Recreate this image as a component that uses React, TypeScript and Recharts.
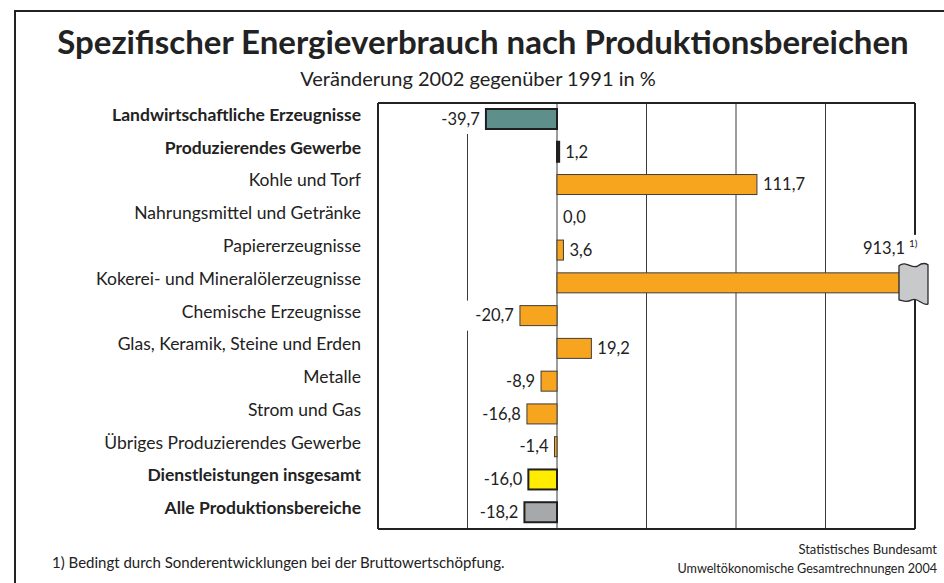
import { Bar, BarChart, CartesianGrid, LabelList, XAxis, YAxis } from "recharts";

const CATEGORIES = [
  "Landwirtschaftliche Erzeugnisse",
  "Produzierendes Gewerbe",
  "Kohle und Torf",
  "Nahrungsmittel und Getränke",
  "Papiererzeugnisse",
  "Kokerei- und Mineralölerzeugnisse",
  "Chemische Erzeugnisse",
  "Glas, Keramik, Steine und Erden",
  "Metalle",
  "Strom und Gas",
  "Übriges Produzierendes Gewerbe",
  "Dienstleistungen insgesamt",
  "Alle Produktionsbereiche",
];

// Veränderung 2002 gegenüber 1991 in %
const CHANGE = [-39.7, 1.2, 111.7, 0.0, 3.6, 913.1, -20.7, 19.2, -8.9, -16.8, -1.4, -16.0, -18.2];

const GROUP = [
  "agri",
  "industry",
  "branch",
  "branch",
  "branch",
  "branch",
  "branch",
  "branch",
  "branch",
  "branch",
  "branch",
  "services",
  "total",
];

const NOTE_MARKS = ["", "", "", "", "", "1)", "", "", "", "", "", "", ""];

const X_TICKS = [-100, -50, 0, 50, 100, 150, 200];
const X_MIN = X_TICKS[0];
const X_MAX = X_TICKS[X_TICKS.length - 1];

const TITLE = "Spezifischer Energieverbrauch nach Produktionsbereichen";
const SUBTITLE = "Veränderung 2002 gegenüber 1991 in %";
const FOOTNOTE = "1) Bedingt durch Sonderentwicklungen bei der Bruttowertschöpfung.";
const SOURCE = ["Statistisches Bundesamt", "Umweltökonomische Gesamtrechnungen 2004"];

type Group = "agri" | "industry" | "branch" | "services" | "total";

const GROUP_STYLE: Record<Group, { fill: string; stroke: string; strokeWidth: number; bold: boolean }> = {
  agri: { fill: "#5f8f8a", stroke: "#1f1f1f", strokeWidth: 2, bold: true },
  industry: { fill: "#1f1f1f", stroke: "#1f1f1f", strokeWidth: 2, bold: true },
  branch: { fill: "#f7a51e", stroke: "#3d3d3d", strokeWidth: 1, bold: false },
  services: { fill: "#ffec00", stroke: "#1f1f1f", strokeWidth: 2, bold: true },
  total: { fill: "#a7a8aa", stroke: "#1f1f1f", strokeWidth: 2, bold: true },
};

const rows = CATEGORIES.map((name, i) => ({
  name,
  value: CHANGE[i],
  group: GROUP[i] as Group,
  note: NOTE_MARKS[i],
}));

const FONT = "Lato, 'Noto Sans', sans-serif";
const BREAK_GAP = 15; // space left between a cut bar and the frame

const fmt = (v: number) => v.toFixed(1).replace(".", ",");

/** Bar rectangle; a bar running past the axis maximum is cut short before the frame. */
function BarShape(props: any) {
  const { x, y, width, height, payload } = props;
  if (payload == null) return null;
  const st = GROUP_STYLE[payload.group as Group];
  let left = Math.min(x, x + width);
  let right = Math.max(x, x + width);
  if (payload.value > X_MAX && width !== 0) {
    right = x + X_MAX * (width / payload.value) - BREAK_GAP;
  }
  if (right - left < 0.05) return null;
  return (
    <rect
      x={left}
      y={y}
      width={right - left}
      height={height}
      fill={st.fill}
      stroke={st.stroke}
      strokeWidth={st.strokeWidth}
    />
  );
}

/** Value label with a white knock-out; the cut bar gets its break flag here (outside the bar clip). */
function ValueLabel(props: any) {
  const vb = props.viewBox ?? props;
  const { x, y, width, height } = vb;
  const index: number = props.index;
  const v = CHANGE[index];
  const text = fmt(v);
  const left = Math.min(x, x + width);
  const right = Math.max(x, x + width);
  const cy = y + height / 2;

  if (v > X_MAX) {
    const end = x + X_MAX * (width / v) - BREAK_GAP;
    const x0 = end - 1;
    const x1 = end + 28;
    const t = y - 9;
    const b = y + height + 8;
    const flag =
      `M${x0},${t + 2} C${x0 + 7},${t - 4} ${x0 + 13},${t + 6} ${x0 + 19},${t + 2} ` +
      `C${x0 + 23},${t - 1} ${x1 - 3},${t - 1} ${x1},${t + 1} ` +
      `L${x1},${b + 3} C${x1 - 5},${b + 6} ${x1 - 10},${b - 4} ${x1 - 16},${b - 1} ` +
      `C${x0 + 7},${b + 2} ${x0 + 3},${b} ${x0},${b - 1} Z`;
    return (
      <g>
        <rect x={end - 50} y={y - 38} width={70} height={36} fill="#fff" />
        <text x={end + 5} y={y - 19} textAnchor="end" fontSize={16.5} fill="#222" fontFamily={FONT}>
          {text}
        </text>
        <text x={end + 9} y={y - 26} fontSize={10} fill="#222" fontFamily={FONT}>
          {NOTE_MARKS[index]}
        </text>
        <path d={flag} fill="#c8c9cb" stroke="#2a2a2a" strokeWidth={1.3} />
      </g>
    );
  }

  const neg = v < 0;
  const tx = neg ? left - 6 : right + 6;
  const w = text.length * 8.6 + 4;
  return (
    <g>
      <rect x={neg ? tx - w : tx - 2} y={y - 5} width={w + 2} height={height + 10} fill="#fff" />
      <text x={tx} y={cy + 5.8} textAnchor={neg ? "end" : "start"} fontSize={16.5} fill="#222" fontFamily={FONT}>
        {text}
      </text>
    </g>
  );
}

function CategoryTick(props: any) {
  const { x, y, payload } = props;
  const i = CATEGORIES.indexOf(payload.value);
  const bold = i >= 0 && GROUP_STYLE[GROUP[i] as Group].bold;
  return (
    <text
      x={x}
      y={y + 1.5}
      textAnchor="end"
      fontSize={17.5}
      fontWeight={bold ? 700 : 400}
      fill="#222"
      fontFamily={FONT}
    >
      {payload.value}
    </text>
  );
}

export default function App() {
  return (
    <div
      style={{
        position: "absolute",
        left: 0,
        top: 0,
        width: 944,
        height: 583,
        overflow: "hidden",
        background: "#fff",
        fontFamily: FONT,
      }}
    >
      <div
        style={{
          position: "absolute",
          left: 14,
          top: 10,
          width: 960,
          height: 600,
          border: "2.5px solid #222",
          boxSizing: "border-box",
        }}
      />

      <div style={{ position: "absolute", left: 0, top: 0 }}>
        <BarChart
          width={944}
          height={583}
          data={rows}
          layout="vertical"
          barSize={20}
          margin={{ top: 103, right: 29, bottom: 54, left: 0 }}
        >
          <CartesianGrid horizontal={false} stroke="#3a3a3a" strokeWidth={1} />
          <CartesianGrid
            verticalCoordinatesGenerator={({ offset }: any) => [offset.left, offset.left + offset.width]}
            horizontalCoordinatesGenerator={({ offset }: any) => [offset.top, offset.top + offset.height]}
            stroke="#222"
            strokeWidth={2}
          />
          <XAxis type="number" domain={[X_MIN, X_MAX]} ticks={X_TICKS} allowDataOverflow hide />
          <YAxis
            type="category"
            dataKey="name"
            width={378}
            axisLine={false}
            tickLine={false}
            tickSize={0}
            tickMargin={17}
            interval={0}
            tick={<CategoryTick />}
          />
          <Bar dataKey="value" shape={<BarShape />} isAnimationActive={false}>
            <LabelList dataKey="value" content={<ValueLabel />} />
          </Bar>
        </BarChart>
      </div>

      <svg
        width={944}
        height={583}
        style={{ position: "absolute", left: 0, top: 0, pointerEvents: "none" }}
        fontFamily={FONT}
      >
        <text x={483} y={54} textAnchor="middle" fontSize={33} fontWeight={700} fill="#222">
          {TITLE}
        </text>
        <text x={478} y={86} textAnchor="middle" fontSize={20} fill="#222">
          {SUBTITLE}
        </text>
        <text x={52} y={568} fontSize={15} fill="#222">
          {FOOTNOTE}
        </text>
        <text x={937} y={554} textAnchor="end" fontSize={13} fill="#222">
          {SOURCE[0]}
        </text>
        <text x={937} y={573} textAnchor="end" fontSize={12.6} fill="#222">
          {SOURCE[1]}
        </text>
      </svg>
    </div>
  );
}
